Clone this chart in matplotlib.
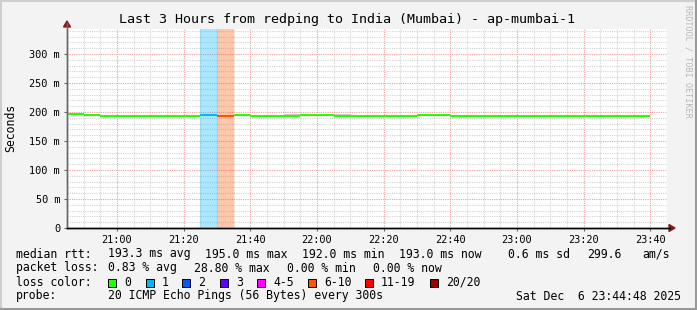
import matplotlib
matplotlib.use("Agg")
import matplotlib.pyplot as plt
from matplotlib.patches import Rectangle, Polygon
from matplotlib.lines import Line2D

# 5-minute slots starting 20:45 (minutes of day)
slot_start = [1245 + 5 * i for i in range(35)]
median_ms = [197, 195, 193, 193, 193, 193, 193, 193, 195, 193,
             195, 193, 193, 193, 195, 195, 193, 193, 193, 193,
             193, 195, 195, 193, 193, 193, 193, 193, 193, 193,
             193, 193, 193, 193, 193]
loss_cnt = [0, 0, 0, 0, 0, 0, 0, 0, 1, 6,
            0, 0, 0, 0, 0, 0, 0, 0, 0, 0,
            0, 0, 0, 0, 0, 0, 0, 0, 0, 0,
            0, 0, 0, 0, 0]
# smoke (ping spread) low / high per slot, ms
smoke_lo = [197, 195, 193, 193, 191.5, 191.3, 191.3, 192, 195, 193,
            195, 193, 193, 193, 195, 195, 193, 193, 193, 193,
            193, 195, 195, 193, 193, 193, 193, 193, 193, 193,
            193, 193, 193, 193, 193]
smoke_hi = [197, 195, 193, 193, 193, 193, 193, 193, 195, 193,
            195, 193, 193, 196.5, 195, 195, 196, 193, 193, 193,
            193, 195, 195, 193, 193, 193, 193, 193, 193, 193,
            195.5, 193, 193, 193, 193]

tick_pos = [1260, 1280, 1300, 1320, 1340, 1360, 1380, 1400, 1420]
tick_lab = ["21:00", "21:20", "21:40", "22:00", "22:20", "22:40", "23:00", "23:20", "23:40"]
ytick_pos = [0, 50, 100, 150, 200, 250, 300]
ytick_lab = ["0", "50 m", "100 m", "150 m", "200 m", "250 m", "300 m"]

loss_names = ["0", "1", "2", "3", "4-5", "6-10", "11-19", "20/20"]
loss_cols = ["#26ff00", "#00b8ff", "#0059ff", "#5e00ff", "#ff00ff", "#ff5500", "#ff0000", "#a00000"]
loss_upper = [0, 1, 2, 3, 5, 10, 19, 20]


def loss_color(n):
    for up, c in zip(loss_upper, loss_cols):
        if n <= up:
            return c
    return loss_cols[-1]


W, H = 697, 310
fig = plt.figure(figsize=(W / 100, H / 100), dpi=100)
fig.patch.set_facecolor("#f3f3f3")
mono = "DejaVu Sans Mono"


def px(x, y):
    return x / W, 1 - y / H


L, R, T, B = 67, 667, 29, 228
ax = fig.add_axes([L / W, 1 - B / H, (R - L) / W, (B - T) / H])
ax.set_facecolor("white")
ax.set_xlim(1245, 1425)
ax.set_ylim(0, 343)

# grid
for m in range(1245, 1426, 5):
    if m % 20 == 0:
        continue
    ax.axvline(m, color="#d4d4d4", lw=0.8, ls=(0, (1, 1)), zorder=1)
for v in range(10, 343, 10):
    if v % 50 == 0:
        continue
    ax.axhline(v, color="#d4d4d4", lw=0.8, ls=(0, (1, 1)), zorder=1)
for m in tick_pos:
    ax.axvline(m, color="#f2a0a0", lw=0.8, ls=(0, (1, 1)), zorder=2)
for v in ytick_pos[1:]:
    ax.axhline(v, color="#f2a0a0", lw=0.8, ls=(0, (1, 1)), zorder=2)

# loss background bands
for s, n in zip(slot_start, loss_cnt):
    if n > 0:
        ax.axvspan(s, s + 5, color=loss_color(n), alpha=0.33, lw=0, zorder=3)

# smoke
for s, lo, hi in zip(slot_start, smoke_lo, smoke_hi):
    if hi - lo > 0:
        ax.add_patch(Rectangle((s, lo), 5, hi - lo, color="#cccccc", lw=0, zorder=4))

# median line
for s, v, n in zip(slot_start, median_ms, loss_cnt):
    ax.hlines(v, s, s + 5, color=loss_color(n), lw=1.5, zorder=5)

ax.set_xticks(tick_pos)
ax.set_xticklabels(tick_lab)
ax.set_yticks(ytick_pos)
ax.set_yticklabels(ytick_lab)
ax.tick_params(axis="both", length=2, width=0.8, color="#666666", labelsize=7.4, pad=3)
for lab in ax.get_xticklabels() + ax.get_yticklabels():
    lab.set_family(mono)
for sp in ["top", "right"]:
    ax.spines[sp].set_visible(False)
ax.spines["left"].set_color("#666666")
ax.spines["bottom"].set_color("#000000")
ax.spines["left"].set_linewidth(1)
ax.spines["bottom"].set_linewidth(1)

# axis extension lines and arrows
fig.add_artist(Line2D([L / W, L / W], [1 - B / H, 1 - 23 / H], color="#666666", lw=1))
fig.add_artist(Line2D([L / W, 670 / W], [1 - B / H, 1 - B / H], color="#000000", lw=1))
fig.add_artist(Polygon([px(63.5, 27), px(70.5, 27), px(67, 21)], closed=True, color="#8b1a1a", transform=fig.transFigure))
fig.add_artist(Polygon([px(669, 224.5), px(669, 231.5), px(675, 228)], closed=True, color="#8b1a1a", transform=fig.transFigure))

# title and labels
fig.text(*px(347, 19), "Last 3 Hours from redping to India (Mumbai) - ap-mumbai-1",
         family=mono, fontsize=9.6, ha="center", va="center", color="#000000")
fig.text(*px(11, 128), "Seconds", family=mono, fontsize=8.3, rotation=90, ha="center", va="center")
fig.text(*px(688, 5), "RRDTOOL / TOBI OETIKER", family=mono, fontsize=6.1, rotation=270,
         ha="center", va="top", color="#b8b8b8")

# legend rows
rows_y = [254, 268, 282, 296]
fs = 8.3
row1 = [(16, "median rtt:"), (108, "193.3 ms avg"), (205, "195.0 ms max"), (302, "192.0 ms min"),
        (399, "193.0 ms now"), (508, "0.6 ms sd"), (587, "299.6"), (642, "am/s")]
row2 = [(16, "packet loss:"), (108, "0.83 % avg"), (194, "28.80 % max"), (287, "0.00 % min"),
        (373, "0.00 % now")]
row4 = [(16, "probe:"), (108, "20 ICMP Echo Pings (56 Bytes) every 300s")]
for items, y in [(row1, rows_y[0]), (row2, rows_y[1]), (row4, rows_y[3])]:
    for x, t in items:
        fig.text(*px(x, y), t, family=mono, fontsize=fs, ha="left", va="center")
fig.text(*px(681, rows_y[3]), "Sat Dec  6 23:44:48 2025", family=mono, fontsize=fs,
         ha="right", va="center")

fig.text(*px(16, rows_y[2]), "loss color:", family=mono, fontsize=fs, ha="left", va="center")
box_x = [108, 146, 182, 220, 257, 308, 365, 430]
for bx, name, col in zip(box_x, loss_names, loss_cols):
    fig.add_artist(Rectangle(px(bx, rows_y[2] + 4.5), 8 / W, 8 / H, facecolor=col,
                             edgecolor="#000000", lw=0.7, transform=fig.transFigure))
    fig.text(*px(bx + 16, rows_y[2]), name, family=mono, fontsize=fs, ha="left", va="center")

# frame
fig.add_artist(Line2D([0, 1], [1 - 1 / H, 1 - 1 / H], color="#cfcfcf", lw=1.5))
fig.add_artist(Line2D([1 / W, 1 / W], [0, 1], color="#cfcfcf", lw=1.5))
fig.add_artist(Line2D([0, 1], [1 / H, 1 / H], color="#9a9a9a", lw=1.5))
fig.add_artist(Line2D([1 - 1 / W, 1 - 1 / W], [0, 1], color="#9a9a9a", lw=1.5))

fig.savefig("out.png", dpi=100, facecolor=fig.get_facecolor())
